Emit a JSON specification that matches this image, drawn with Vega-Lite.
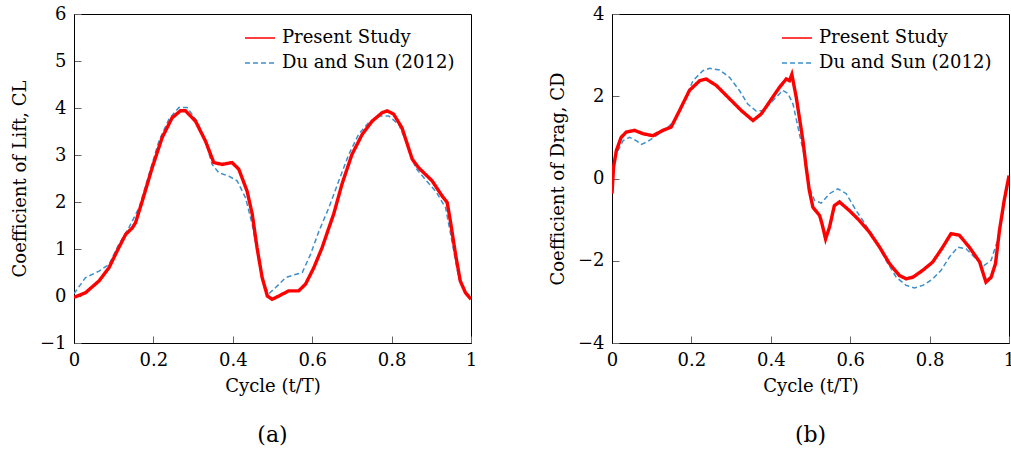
{
  "$schema": "https://vega.github.io/schema/vega-lite/v6.json",
  "padding": {"left": 10, "top": 4, "right": 2, "bottom": 0},
  "spacing": 70,
  "background": "white",
  "datasets": {
    "lift": [
      {"t":0.000,"v":-0.03,"s":"Present Study"},{"t":0.029,"v":0.07,"s":"Present Study"},{"t":0.063,"v":0.32,"s":"Present Study"},{"t":0.088,"v":0.60,"s":"Present Study"},{"t":0.113,"v":1.03,"s":"Present Study"},{"t":0.130,"v":1.31,"s":"Present Study"},{"t":0.147,"v":1.45,"s":"Present Study"},{"t":0.155,"v":1.56,"s":"Present Study"},{"t":0.172,"v":2.02,"s":"Present Study"},{"t":0.197,"v":2.73,"s":"Present Study"},{"t":0.222,"v":3.37,"s":"Present Study"},{"t":0.247,"v":3.79,"s":"Present Study"},{"t":0.268,"v":3.94,"s":"Present Study"},{"t":0.281,"v":3.94,"s":"Present Study"},{"t":0.306,"v":3.72,"s":"Present Study"},{"t":0.331,"v":3.30,"s":"Present Study"},{"t":0.352,"v":2.84,"s":"Present Study"},{"t":0.373,"v":2.80,"s":"Present Study"},{"t":0.398,"v":2.84,"s":"Present Study"},{"t":0.415,"v":2.70,"s":"Present Study"},{"t":0.436,"v":2.23,"s":"Present Study"},{"t":0.449,"v":1.74,"s":"Present Study"},{"t":0.461,"v":1.03,"s":"Present Study"},{"t":0.474,"v":0.39,"s":"Present Study"},{"t":0.487,"v":0.00,"s":"Present Study"},{"t":0.499,"v":-0.07,"s":"Present Study"},{"t":0.516,"v":0.00,"s":"Present Study"},{"t":0.541,"v":0.11,"s":"Present Study"},{"t":0.566,"v":0.11,"s":"Present Study"},{"t":0.583,"v":0.25,"s":"Present Study"},{"t":0.604,"v":0.60,"s":"Present Study"},{"t":0.625,"v":1.03,"s":"Present Study"},{"t":0.642,"v":1.45,"s":"Present Study"},{"t":0.654,"v":1.74,"s":"Present Study"},{"t":0.675,"v":2.38,"s":"Present Study"},{"t":0.700,"v":3.01,"s":"Present Study"},{"t":0.726,"v":3.44,"s":"Present Study"},{"t":0.751,"v":3.72,"s":"Present Study"},{"t":0.776,"v":3.90,"s":"Present Study"},{"t":0.789,"v":3.94,"s":"Present Study"},{"t":0.805,"v":3.87,"s":"Present Study"},{"t":0.826,"v":3.58,"s":"Present Study"},{"t":0.852,"v":2.91,"s":"Present Study"},{"t":0.868,"v":2.73,"s":"Present Study"},{"t":0.902,"v":2.45,"s":"Present Study"},{"t":0.927,"v":2.13,"s":"Present Study"},{"t":0.940,"v":1.99,"s":"Present Study"},{"t":0.948,"v":1.60,"s":"Present Study"},{"t":0.961,"v":0.89,"s":"Present Study"},{"t":0.973,"v":0.32,"s":"Present Study"},{"t":0.986,"v":0.07,"s":"Present Study"},{"t":1.000,"v":-0.07,"s":"Present Study"},
      {"t":0.000,"v":0.05,"s":"Du and Sun (2012)"},{"t":0.029,"v":0.39,"s":"Du and Sun (2012)"},{"t":0.063,"v":0.53,"s":"Du and Sun (2012)"},{"t":0.088,"v":0.67,"s":"Du and Sun (2012)"},{"t":0.113,"v":1.10,"s":"Du and Sun (2012)"},{"t":0.138,"v":1.45,"s":"Du and Sun (2012)"},{"t":0.164,"v":1.88,"s":"Du and Sun (2012)"},{"t":0.189,"v":2.59,"s":"Du and Sun (2012)"},{"t":0.214,"v":3.30,"s":"Du and Sun (2012)"},{"t":0.239,"v":3.76,"s":"Du and Sun (2012)"},{"t":0.264,"v":4.01,"s":"Du and Sun (2012)"},{"t":0.285,"v":4.01,"s":"Du and Sun (2012)"},{"t":0.310,"v":3.72,"s":"Du and Sun (2012)"},{"t":0.331,"v":3.30,"s":"Du and Sun (2012)"},{"t":0.348,"v":2.80,"s":"Du and Sun (2012)"},{"t":0.365,"v":2.62,"s":"Du and Sun (2012)"},{"t":0.390,"v":2.55,"s":"Du and Sun (2012)"},{"t":0.411,"v":2.45,"s":"Du and Sun (2012)"},{"t":0.432,"v":2.09,"s":"Du and Sun (2012)"},{"t":0.449,"v":1.52,"s":"Du and Sun (2012)"},{"t":0.466,"v":0.74,"s":"Du and Sun (2012)"},{"t":0.478,"v":0.25,"s":"Du and Sun (2012)"},{"t":0.491,"v":0.05,"s":"Du and Sun (2012)"},{"t":0.508,"v":0.18,"s":"Du and Sun (2012)"},{"t":0.533,"v":0.39,"s":"Du and Sun (2012)"},{"t":0.554,"v":0.45,"s":"Du and Sun (2012)"},{"t":0.575,"v":0.50,"s":"Du and Sun (2012)"},{"t":0.596,"v":0.89,"s":"Du and Sun (2012)"},{"t":0.617,"v":1.38,"s":"Du and Sun (2012)"},{"t":0.642,"v":1.88,"s":"Du and Sun (2012)"},{"t":0.667,"v":2.45,"s":"Du and Sun (2012)"},{"t":0.692,"v":3.01,"s":"Du and Sun (2012)"},{"t":0.717,"v":3.44,"s":"Du and Sun (2012)"},{"t":0.742,"v":3.69,"s":"Du and Sun (2012)"},{"t":0.768,"v":3.83,"s":"Du and Sun (2012)"},{"t":0.793,"v":3.83,"s":"Du and Sun (2012)"},{"t":0.818,"v":3.65,"s":"Du and Sun (2012)"},{"t":0.843,"v":3.16,"s":"Du and Sun (2012)"},{"t":0.860,"v":2.73,"s":"Du and Sun (2012)"},{"t":0.885,"v":2.48,"s":"Du and Sun (2012)"},{"t":0.911,"v":2.23,"s":"Du and Sun (2012)"},{"t":0.936,"v":1.88,"s":"Du and Sun (2012)"},{"t":0.952,"v":1.17,"s":"Du and Sun (2012)"},{"t":0.969,"v":0.39,"s":"Du and Sun (2012)"},{"t":0.986,"v":0.07,"s":"Du and Sun (2012)"},{"t":1.000,"v":0.00,"s":"Du and Sun (2012)"}
    ],
    "drag": [
      {"t":0.000,"v":-0.37,"s":"Present Study"},{"t":0.004,"v":0.28,"s":"Present Study"},{"t":0.011,"v":0.68,"s":"Present Study"},{"t":0.023,"v":1.00,"s":"Present Study"},{"t":0.036,"v":1.13,"s":"Present Study"},{"t":0.057,"v":1.17,"s":"Present Study"},{"t":0.078,"v":1.09,"s":"Present Study"},{"t":0.103,"v":1.04,"s":"Present Study"},{"t":0.128,"v":1.17,"s":"Present Study"},{"t":0.149,"v":1.25,"s":"Present Study"},{"t":0.170,"v":1.65,"s":"Present Study"},{"t":0.195,"v":2.14,"s":"Present Study"},{"t":0.221,"v":2.38,"s":"Present Study"},{"t":0.237,"v":2.42,"s":"Present Study"},{"t":0.263,"v":2.26,"s":"Present Study"},{"t":0.296,"v":1.94,"s":"Present Study"},{"t":0.326,"v":1.65,"s":"Present Study"},{"t":0.355,"v":1.41,"s":"Present Study"},{"t":0.376,"v":1.57,"s":"Present Study"},{"t":0.405,"v":1.98,"s":"Present Study"},{"t":0.422,"v":2.22,"s":"Present Study"},{"t":0.439,"v":2.42,"s":"Present Study"},{"t":0.447,"v":2.38,"s":"Present Study"},{"t":0.453,"v":2.53,"s":"Present Study"},{"t":0.464,"v":1.98,"s":"Present Study"},{"t":0.481,"v":0.92,"s":"Present Study"},{"t":0.489,"v":0.28,"s":"Present Study"},{"t":0.497,"v":-0.29,"s":"Present Study"},{"t":0.506,"v":-0.70,"s":"Present Study"},{"t":0.523,"v":-0.90,"s":"Present Study"},{"t":0.529,"v":-1.10,"s":"Present Study"},{"t":0.538,"v":-1.47,"s":"Present Study"},{"t":0.548,"v":-1.18,"s":"Present Study"},{"t":0.560,"v":-0.66,"s":"Present Study"},{"t":0.573,"v":-0.57,"s":"Present Study"},{"t":0.598,"v":-0.78,"s":"Present Study"},{"t":0.623,"v":-1.02,"s":"Present Study"},{"t":0.648,"v":-1.30,"s":"Present Study"},{"t":0.674,"v":-1.67,"s":"Present Study"},{"t":0.699,"v":-2.07,"s":"Present Study"},{"t":0.724,"v":-2.36,"s":"Present Study"},{"t":0.741,"v":-2.44,"s":"Present Study"},{"t":0.758,"v":-2.40,"s":"Present Study"},{"t":0.783,"v":-2.23,"s":"Present Study"},{"t":0.808,"v":-2.03,"s":"Present Study"},{"t":0.833,"v":-1.67,"s":"Present Study"},{"t":0.854,"v":-1.34,"s":"Present Study"},{"t":0.875,"v":-1.38,"s":"Present Study"},{"t":0.900,"v":-1.67,"s":"Present Study"},{"t":0.926,"v":-2.03,"s":"Present Study"},{"t":0.934,"v":-2.28,"s":"Present Study"},{"t":0.942,"v":-2.52,"s":"Present Study"},{"t":0.955,"v":-2.40,"s":"Present Study"},{"t":0.966,"v":-2.07,"s":"Present Study"},{"t":0.976,"v":-1.26,"s":"Present Study"},{"t":0.988,"v":-0.53,"s":"Present Study"},{"t":1.000,"v":0.07,"s":"Present Study"},
      {"t":0.000,"v":0.11,"s":"Du and Sun (2012)"},{"t":0.011,"v":0.60,"s":"Du and Sun (2012)"},{"t":0.028,"v":0.92,"s":"Du and Sun (2012)"},{"t":0.044,"v":1.00,"s":"Du and Sun (2012)"},{"t":0.061,"v":0.92,"s":"Du and Sun (2012)"},{"t":0.074,"v":0.83,"s":"Du and Sun (2012)"},{"t":0.086,"v":0.88,"s":"Du and Sun (2012)"},{"t":0.112,"v":1.04,"s":"Du and Sun (2012)"},{"t":0.137,"v":1.21,"s":"Du and Sun (2012)"},{"t":0.158,"v":1.41,"s":"Du and Sun (2012)"},{"t":0.179,"v":1.81,"s":"Du and Sun (2012)"},{"t":0.204,"v":2.38,"s":"Du and Sun (2012)"},{"t":0.229,"v":2.62,"s":"Du and Sun (2012)"},{"t":0.246,"v":2.68,"s":"Du and Sun (2012)"},{"t":0.271,"v":2.64,"s":"Du and Sun (2012)"},{"t":0.296,"v":2.46,"s":"Du and Sun (2012)"},{"t":0.321,"v":2.14,"s":"Du and Sun (2012)"},{"t":0.342,"v":1.81,"s":"Du and Sun (2012)"},{"t":0.363,"v":1.64,"s":"Du and Sun (2012)"},{"t":0.380,"v":1.65,"s":"Du and Sun (2012)"},{"t":0.405,"v":1.89,"s":"Du and Sun (2012)"},{"t":0.430,"v":2.14,"s":"Du and Sun (2012)"},{"t":0.443,"v":2.07,"s":"Du and Sun (2012)"},{"t":0.456,"v":1.81,"s":"Du and Sun (2012)"},{"t":0.472,"v":1.09,"s":"Du and Sun (2012)"},{"t":0.485,"v":0.53,"s":"Du and Sun (2012)"},{"t":0.497,"v":-0.21,"s":"Du and Sun (2012)"},{"t":0.510,"v":-0.53,"s":"Du and Sun (2012)"},{"t":0.527,"v":-0.60,"s":"Du and Sun (2012)"},{"t":0.548,"v":-0.37,"s":"Du and Sun (2012)"},{"t":0.569,"v":-0.25,"s":"Du and Sun (2012)"},{"t":0.590,"v":-0.37,"s":"Du and Sun (2012)"},{"t":0.615,"v":-0.78,"s":"Du and Sun (2012)"},{"t":0.640,"v":-1.14,"s":"Du and Sun (2012)"},{"t":0.665,"v":-1.51,"s":"Du and Sun (2012)"},{"t":0.690,"v":-1.99,"s":"Du and Sun (2012)"},{"t":0.716,"v":-2.40,"s":"Du and Sun (2012)"},{"t":0.741,"v":-2.60,"s":"Du and Sun (2012)"},{"t":0.762,"v":-2.66,"s":"Du and Sun (2012)"},{"t":0.783,"v":-2.60,"s":"Du and Sun (2012)"},{"t":0.808,"v":-2.44,"s":"Du and Sun (2012)"},{"t":0.829,"v":-2.23,"s":"Du and Sun (2012)"},{"t":0.850,"v":-1.91,"s":"Du and Sun (2012)"},{"t":0.871,"v":-1.67,"s":"Du and Sun (2012)"},{"t":0.892,"v":-1.71,"s":"Du and Sun (2012)"},{"t":0.917,"v":-1.95,"s":"Du and Sun (2012)"},{"t":0.938,"v":-2.11,"s":"Du and Sun (2012)"},{"t":0.955,"v":-1.99,"s":"Du and Sun (2012)"},{"t":0.971,"v":-1.51,"s":"Du and Sun (2012)"},{"t":0.984,"v":-0.86,"s":"Du and Sun (2012)"},{"t":0.992,"v":-0.29,"s":"Du and Sun (2012)"},{"t":1.000,"v":-0.01,"s":"Du and Sun (2012)"}
    ]
  },
  "hconcat": [
    {
      "width": 397, "height": 329,
      "data": {"name": "lift"},
      "title": {"text": "(a)", "orient": "bottom", "offset": 30, "fontSize": 22, "font": "DejaVu Serif", "fontWeight": "normal", "color": "#000000"},
      "encoding": {
        "x": {"field": "t", "type": "quantitative", "scale": {"domain": [0, 1], "nice": false, "zero": false},
              "axis": {"values": [0, 0.2, 0.4, 0.6, 0.8, 1], "format": "~g", "title": "Cycle (t/T)"}},
        "y": {"field": "v", "type": "quantitative", "scale": {"domain": [-1, 6], "nice": false, "zero": false},
              "axis": {"values": [-1, 0, 1, 2, 3, 4, 5, 6], "title": "Coefficient of Lift, CL"}},
        "color": {"field": "s", "type": "nominal", "sort": null,
                  "scale": {"domain": ["Present Study", "Du and Sun (2012)"], "range": ["#ff0000", "#3d8fcb"]},
                  "legend": {"title": null, "orient": "none", "legendX": 166, "legendY": 4}},
        "strokeDash": {"field": "s", "type": "nominal", "sort": null,
                  "scale": {"domain": ["Present Study", "Du and Sun (2012)"], "range": [[1, 0], [5, 3]]},
                  "legend": {"title": null, "orient": "none", "legendX": 166, "legendY": 4}}
      },
      "layer": [
        {"transform": [{"filter": "datum.s === 'Du and Sun (2012)'"}], "mark": {"type": "line", "clip": true, "strokeWidth": 1.5}},
        {"transform": [{"filter": "datum.s === 'Present Study'"}], "mark": {"type": "line", "clip": true, "strokeWidth": 3.4}}
      ]
    },
    {
      "width": 397, "height": 329,
      "data": {"name": "drag"},
      "title": {"text": "(b)", "orient": "bottom", "offset": 30, "fontSize": 22, "font": "DejaVu Serif", "fontWeight": "normal", "color": "#000000"},
      "encoding": {
        "x": {"field": "t", "type": "quantitative", "scale": {"domain": [0, 1], "nice": false, "zero": false},
              "axis": {"values": [0, 0.2, 0.4, 0.6, 0.8, 1], "format": "~g", "title": "Cycle (t/T)"}},
        "y": {"field": "v", "type": "quantitative", "scale": {"domain": [-4, 4], "nice": false, "zero": false},
              "axis": {"values": [-4, -2, 0, 2, 4], "title": "Coefficient of Drag, CD"}},
        "color": {"field": "s", "type": "nominal", "sort": null,
                  "scale": {"domain": ["Present Study", "Du and Sun (2012)"], "range": ["#ff0000", "#3d8fcb"]},
                  "legend": {"title": null, "orient": "none", "legendX": 165, "legendY": 4}},
        "strokeDash": {"field": "s", "type": "nominal", "sort": null,
                  "scale": {"domain": ["Present Study", "Du and Sun (2012)"], "range": [[1, 0], [5, 3]]},
                  "legend": {"title": null, "orient": "none", "legendX": 165, "legendY": 4}}
      },
      "layer": [
        {"transform": [{"filter": "datum.s === 'Du and Sun (2012)'"}], "mark": {"type": "line", "clip": true, "strokeWidth": 1.5}},
        {"transform": [{"filter": "datum.s === 'Present Study'"}], "mark": {"type": "line", "clip": true, "strokeWidth": 3.4}}
      ]
    }
  ],
  "resolve": {"scale": {"color": "independent", "strokeDash": "independent"}, "legend": {"color": "independent", "strokeDash": "independent"}},
  "config": {
    "font": "DejaVu Serif",
    "view": {"stroke": "#000000", "strokeWidth": 1},
    "axis": {
      "grid": false,
      "zindex": 1,
      "domainColor": "#000000",
      "domainWidth": 1,
      "tickColor": "#666666",
      "tickSize": -7,
      "tickWidth": 1,
      "labelPadding": 15,
      "labelFont": "DejaVu Serif",
      "labelFontSize": 18,
      "labelColor": "#000000",
      "titleFont": "DejaVu Serif",
      "titleFontSize": 18,
      "titleFontWeight": "normal",
      "titleColor": "#000000"
    },
    "axisX": {"titlePadding": 8, "labelFlush": false},
    "axisY": {"titlePadding": 10},
    "style": {"group-title": {"fontSize": 22, "font": "DejaVu Serif", "fontWeight": "normal"}},
    "legend": {
      "symbolType": "stroke",
      "symbolSize": 900,
      "symbolStrokeWidth": 1.5,
      "labelFont": "DejaVu Serif",
      "labelFontSize": 18,
      "labelColor": "#000000",
      "labelLimit": 400,
      "rowPadding": -2,
      "labelOffset": 6,
      "padding": 4
    }
  }
}
